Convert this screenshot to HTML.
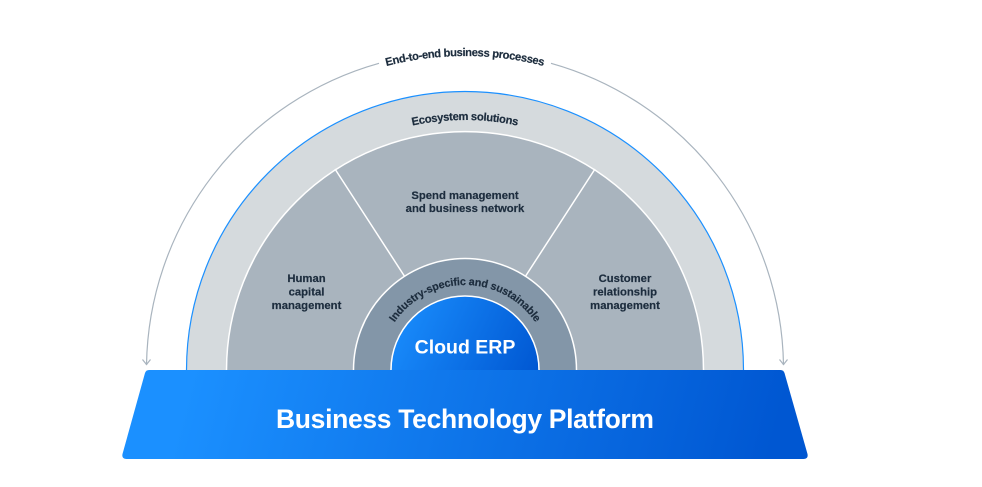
<!DOCTYPE html>
<html>
<head>
<meta charset="utf-8">
<style>
html,body{margin:0;padding:0;background:#fff}
svg{display:block}
text{font-family:"Liberation Sans",sans-serif;font-weight:700;fill:#1d2d3e}
.d{stroke:#1d2d3e;stroke-width:.2px}
</style>
</head>
<body>
<svg width="982" height="487" viewBox="0 0 982 487" xmlns="http://www.w3.org/2000/svg">
<defs>
<linearGradient id="core" x1="391" y1="300" x2="539" y2="370" gradientUnits="userSpaceOnUse">
<stop offset="0" stop-color="#1b90ff"/><stop offset="1" stop-color="#0057d2"/>
</linearGradient>
<linearGradient id="plat" x1="200" y1="340" x2="760" y2="490" gradientUnits="userSpaceOnUse">
<stop offset="0" stop-color="#1b90ff"/><stop offset="1" stop-color="#0057d2"/>
</linearGradient>
<path id="p1" d="M 151 370 A 314 314 0 0 1 779 370"/>
<path id="p2" d="M 215 370 A 250 250 0 0 1 715 370"/>
<path id="p3" d="M 380 370 A 85 85 0 0 1 550 370"/>
</defs>

<!-- outer arrow arc -->
<path d="M146.500 365 A318.500 318.500 0 0 1 379 63.300" fill="none" stroke="#a9b4be" stroke-width="1.200"/>
<path d="M551 63.300 A318.500 318.500 0 0 1 783.500 365" fill="none" stroke="#a9b4be" stroke-width="1.200"/>
<path d="M142.500 359.500 L146.500 364.500 L150.500 359.500" fill="none" stroke="#a9b4be" stroke-width="1.200"/>
<path d="M779.500 359.500 L783.500 364.500 L787.500 359.500" fill="none" stroke="#a9b4be" stroke-width="1.200"/>

<!-- rings -->
<path d="M186.500 372 V370 A278.500 278.500 0 0 1 743.500 370 V372 Z" fill="#d5dadd" stroke="#1b90ff" stroke-width="1.200"/>
<path d="M226.500 372 V370 A238.500 238.500 0 0 1 703.500 370 V372 Z" fill="#a9b4be" stroke="#fff" stroke-width="1.500"/>
<path d="M335 169 L405 277 M595 169 L525 277" stroke="#fff" stroke-width="1.500" fill="none"/>
<path d="M353.500 372 V370 A111.500 111.500 0 0 1 576.500 370 V372 Z" fill="#8396a8" stroke="#fff" stroke-width="1.500"/>
<path d="M391 372 V370 A74 74 0 0 1 539 370 V372 Z" fill="url(#core)" stroke="#fff" stroke-width="1.500"/>

<!-- platform -->
<path d="M149 370 H780.500 Q783.500 370 784.500 373 L807.500 454 Q808.500 459 803.500 459 H126.500 Q121.500 459 122.500 454 L145 373 Q146 370 149 370 Z" fill="url(#plat)"/>

<!-- curved labels -->
<text class="d" font-size="11.200"><textPath href="#p1" startOffset="50%" text-anchor="middle" textLength="159" lengthAdjust="spacing">End-to-end business processes</textPath></text>
<text class="d" font-size="11.200"><textPath href="#p2" startOffset="50%" text-anchor="middle" textLength="106" lengthAdjust="spacing">Ecosystem solutions</textPath></text>
<text class="d" font-size="10.800"><textPath href="#p3" startOffset="50%" text-anchor="middle" textLength="166" lengthAdjust="spacing">Industry-specific and sustainable</textPath></text>

<!-- labels -->
<g class="d" font-size="11.300" text-anchor="middle">
<text x="465" y="199">Spend management</text>
<text x="465" y="212">and business network</text>
<text x="306.500" y="282">Human</text>
<text x="306.500" y="295.500">capital</text>
<text x="306.500" y="309">management</text>
<text x="625" y="282">Customer</text>
<text x="625" y="295.500">relationship</text>
<text x="625" y="309">management</text>
</g>
<text x="465" y="353.500" font-size="19.500" text-anchor="middle" style="fill:#fff">Cloud ERP</text>
<text x="465" y="428" font-size="26.500" text-anchor="middle" textLength="378" lengthAdjust="spacing" style="fill:#fff">Business Technology Platform</text>
</svg>
</body>
</html>
